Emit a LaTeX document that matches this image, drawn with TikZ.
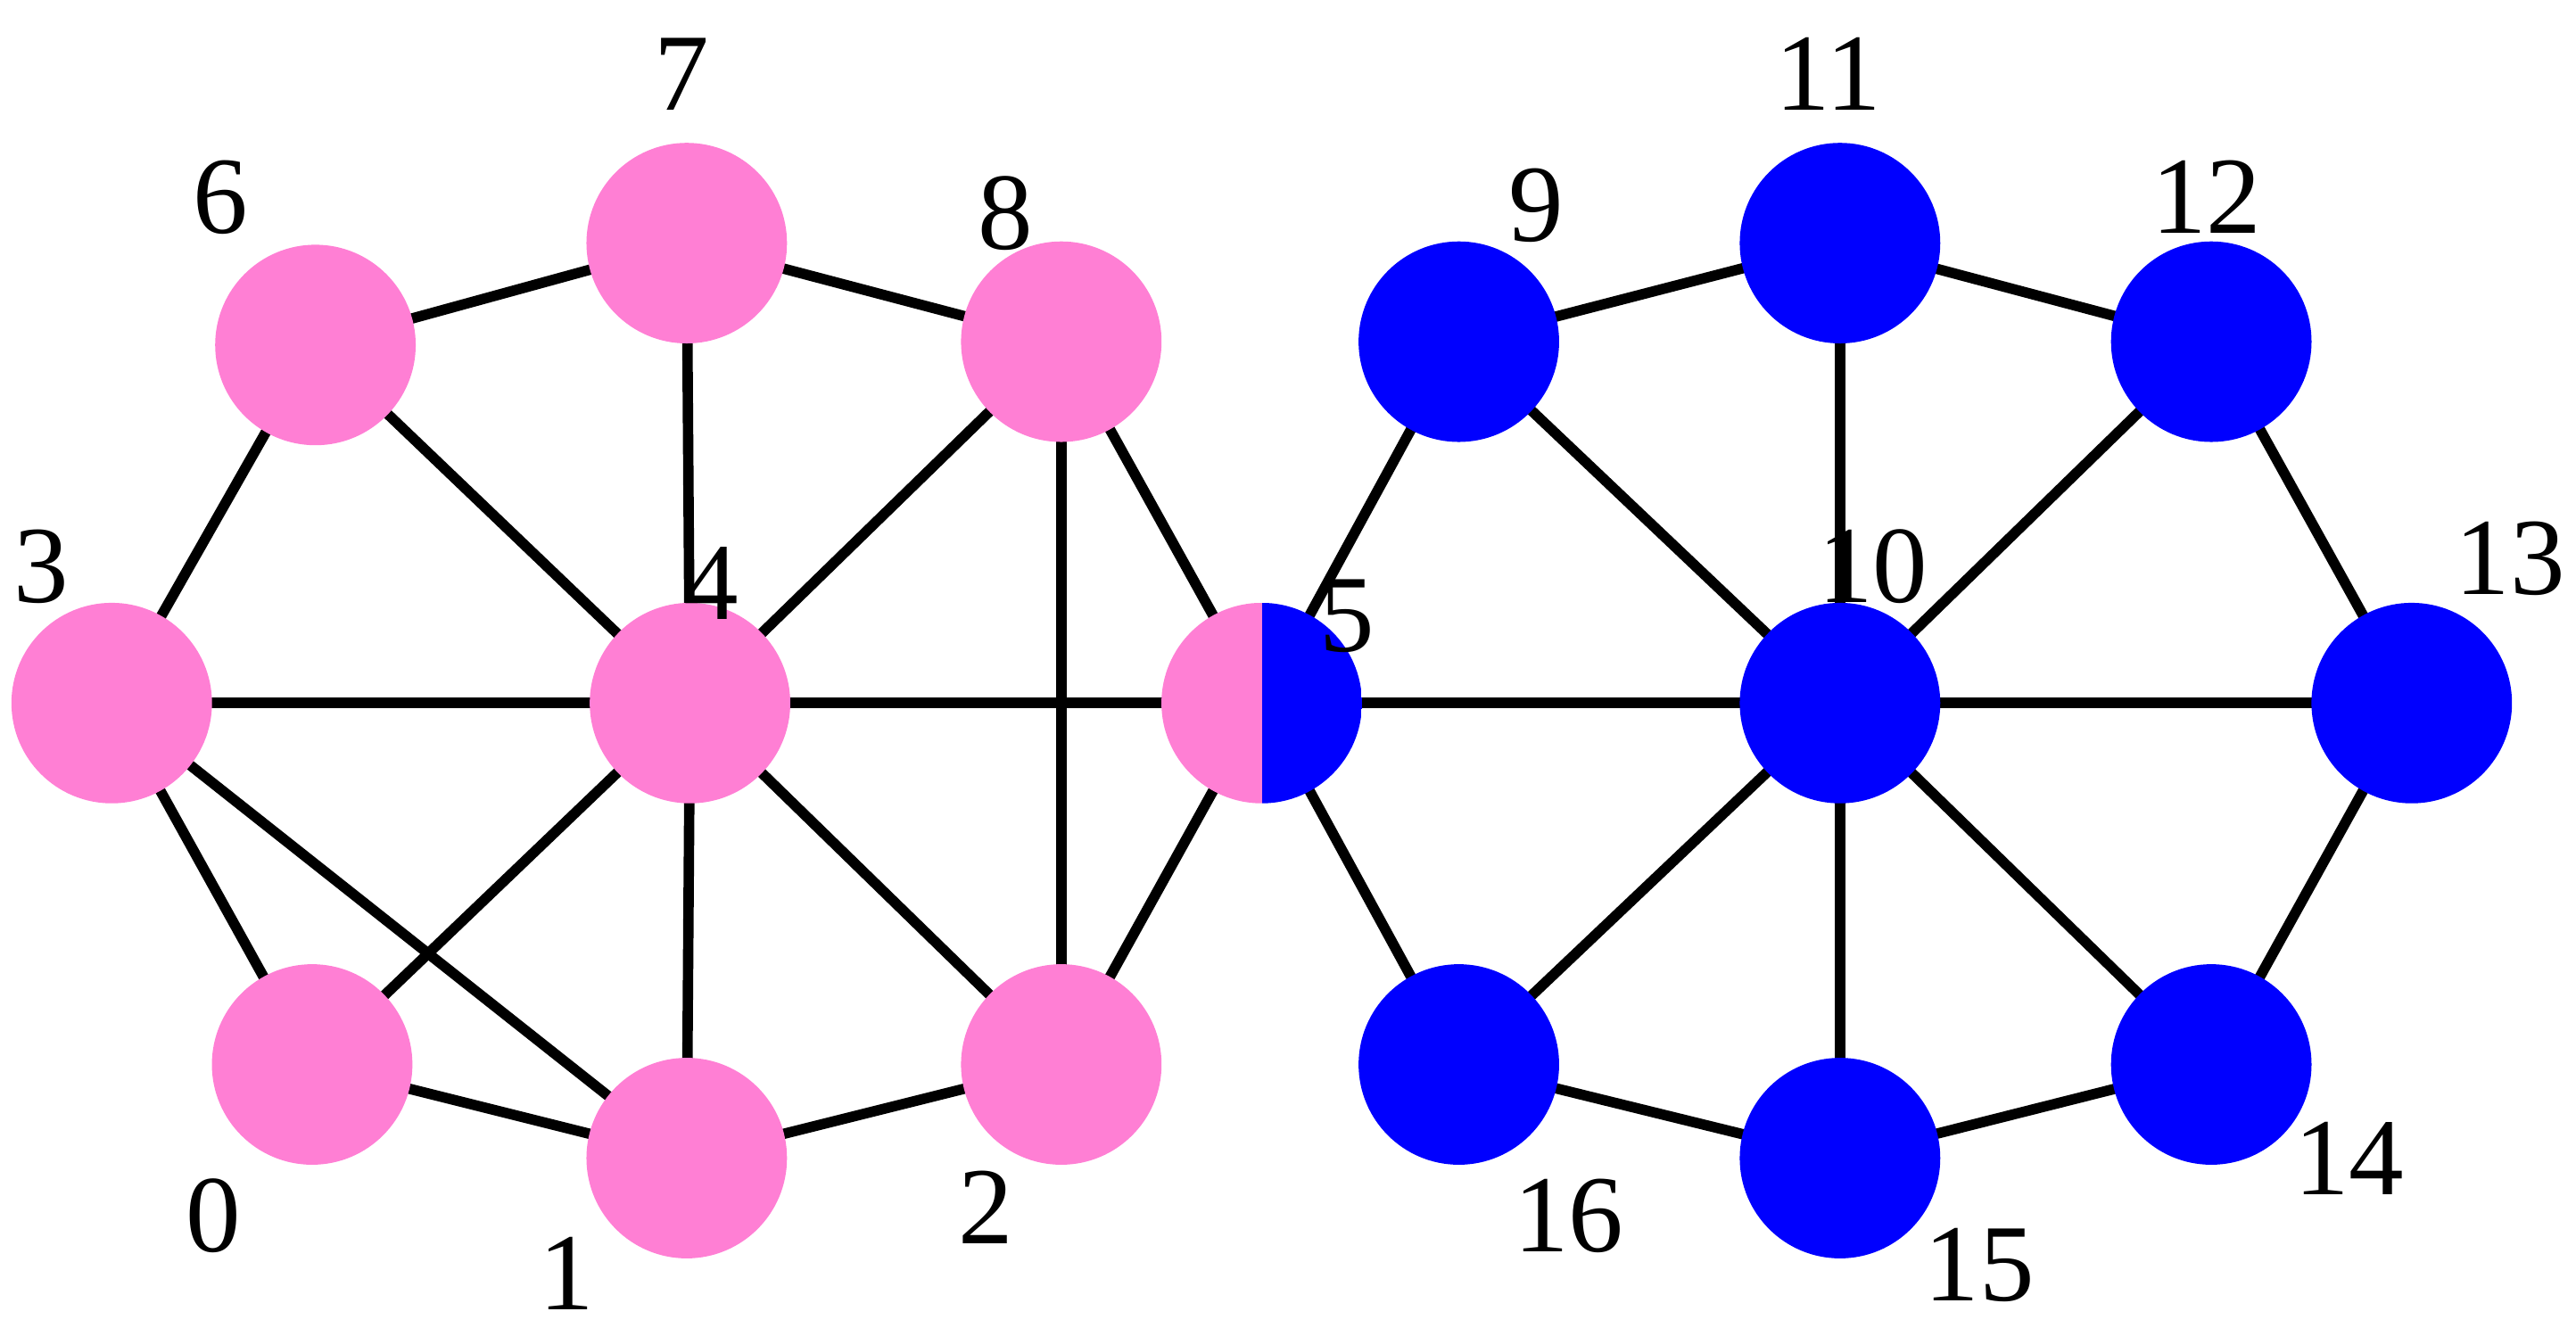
\documentclass[tikz,border=0pt]{standalone}
\usepackage{fontspec}
\setmainfont{Liberation Serif}
\usetikzlibrary{backgrounds}
\definecolor{pk}{HTML}{FF7FD4}
\definecolor{bl}{HTML}{0000FF}
\begin{document}
\begin{tikzpicture}[x=0.01cm,y=-0.01cm,
  vtx/.style={circle,minimum size=1.22cm,inner sep=0pt},
  pv/.style={vtx,fill=pk},
  bv/.style={vtx,fill=bl},
  lab/.style={font=\fontsize{19}{21}\selectfont},
  edge/.style={line width=1.8pt,black}]
\useasboundingbox (0,0) rectangle (1568,808);
\node[pv] (n0) at (190,648) {};
\node[pv] (n1) at (418,705) {};
\node[pv] (n2) at (646,648) {};
\node[pv] (n3) at (68,428) {};
\node[pv] (n4) at (420,428) {};
\node[vtx,path picture={\fill[pk] (path picture bounding box.south west) rectangle (path picture bounding box.north);\fill[bl] (path picture bounding box.south) rectangle (path picture bounding box.north east);}] (n5) at (768,428) {};
\node[pv] (n6) at (192,210) {};
\node[pv] (n7) at (418,148) {};
\node[pv] (n8) at (646,208) {};
\node[bv] (n9) at (888,208) {};
\node[bv] (n10) at (1120,428) {};
\node[bv] (n11) at (1120,148) {};
\node[bv] (n12) at (1346,208) {};
\node[bv] (n13) at (1468,428) {};
\node[bv] (n14) at (1346,648) {};
\node[bv] (n15) at (1120,705) {};
\node[bv] (n16) at (888,648) {};
\begin{scope}[on background layer]
\foreach \a/\b in {6/7,7/8,6/3,6/4,7/4,8/4,8/2,8/5,3/4,4/5,3/0,3/1,0/4,0/1,1/4,4/2,1/2,2/5,5/9,5/16,5/10,9/11,9/10,11/10,11/12,12/10,12/13,13/10,13/14,10/14,10/16,10/15,16/15,15/14}
  \draw[edge] (n\a.center) -- (n\b.center);
\end{scope}
\node[lab] (l7) at (415,45) {7};
\node[lab] (l6) at (134,120) {6};
\node[lab] (l8) at (612,130) {8};
\node[lab] (l3) at (25,345) {3};
\node[lab] (l4) at (433,355) {4};
\node[lab] (l5) at (820,375) {5};
\node[lab] (l0) at (130,740) {0};
\node[lab] (l1) at (345,775) {1};
\node[lab] (l2) at (600,735) {2};
\node[lab] (l9) at (935,125) {9};
\node[lab] (l11) at (1113,45) {11};
\node[lab] (l12) at (1343,120) {12};
\node[lab] (l10) at (1140,345) {10};
\node[lab] (l13) at (1528,340) {13};
\node[lab] (l14) at (1430,705) {14};
\node[lab] (l15) at (1205,770) {15};
\node[lab] (l16) at (955,740) {16};
\end{tikzpicture}
\end{document}
